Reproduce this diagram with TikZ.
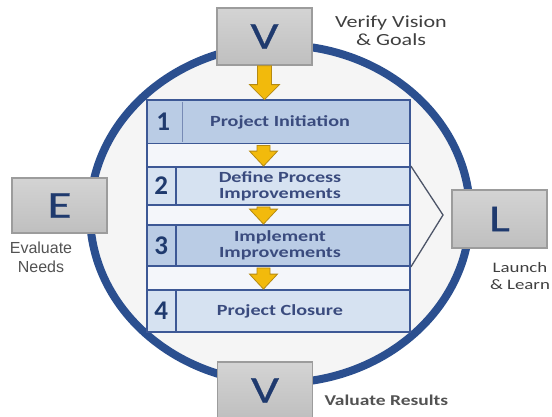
\documentclass[tikz,border=0pt]{standalone}
\usepackage{fontspec}
\setmainfont{Carlito}
\newfontfamily\widefont[FakeStretch=1.3]{Carlito}
\newfontfamily\letterfont[FakeStretch=1.3,FakeBold=0.6]{Carlito}
\newfontfamily\armfont{Liberation Sans}
\usetikzlibrary{calc}
\definecolor{ringblue}{HTML}{2B4F8F}
\definecolor{ringfill}{HTML}{F5F5F5}
\definecolor{boxgray}{HTML}{C9C9C9}
\definecolor{boxedge}{HTML}{9C9C9C}
\definecolor{letterblue}{HTML}{1F3A6E}
\definecolor{stepdark}{HTML}{BACCE5}
\definecolor{steplight}{HTML}{D6E2F1}
\definecolor{stepedge}{HTML}{3D5895}
\definecolor{steptext}{HTML}{3A4B7E}
\definecolor{gapfill}{HTML}{F4F6FA}
\definecolor{gold}{HTML}{F2BA0C}
\definecolor{golddark}{HTML}{B58A12}
\definecolor{labelgray}{HTML}{3F3F3F}
\definecolor{chevron}{HTML}{4D5568}
\tikzset{
  letterbox/.style={draw=boxedge, line width=1.6pt, top color=boxgray!80!white,
    bottom color=boxgray!95!black, minimum width=95pt, minimum height=57pt,
    inner sep=0pt, font=\letterfont\fontsize{38}{38}\selectfont, text=letterblue},
  stepbox/.style={draw=stepedge, line width=1.8pt, minimum width=263pt, inner sep=0pt},
  numtext/.style={font=\bfseries\fontsize{27}{27}\selectfont, text=letterblue},
  steplabel/.style={font=\widefont\bfseries\fontsize{15.5}{16}\selectfont, text=steptext, align=center},
  sidelabel/.style={font=\widefont\fontsize{17}{18}\selectfont, text=labelgray, align=center},
  fatarrow/.style={draw=golddark, line width=0.8pt, fill=gold,
    to path={let \p1=(\tikztostart), \p2=(\tikztotarget) in
      (\x1-#1pt,\y1) -- (\x1+#1pt,\y1) -- (\x1+#1pt,\y2+15pt) -- (\x1+2*#1pt+1pt,\y2+15pt)
      -- (\x1,\y2) -- (\x1-2*#1pt-1pt,\y2+15pt) -- (\x1-#1pt,\y2+15pt) -- cycle}},
}
\begin{document}
\begin{tikzpicture}[x=1pt,y=-1pt]
\useasboundingbox (0,0) rectangle (552,416);
% ring
\draw[ringblue, line width=8pt, fill=ringfill] (280,214) ellipse [x radius=190, y radius=169];
% frame holding the four steps
\node[draw=stepedge, line width=1.6pt, fill=gapfill, minimum width=263pt, minimum height=232pt,
  inner sep=0pt] (frame) at (278.5,216) {};
% steps
\node[stepbox, fill=stepdark, minimum height=43pt] (s1) at (278.5,122) {};
\node[stepbox, fill=steplight, minimum height=38pt] (s2) at (278.5,186) {};
\node[stepbox, fill=stepdark, minimum height=41pt] (s3) at (278.5,245.5) {};
\node[stepbox, fill=steplight, minimum height=42pt] (s4) at (278.5,311) {};
% number column dividers
\draw[stepedge!70, line width=0.8pt] ($(s1.north west)+(36,2)$) -- ($(s1.south west)+(36,-2)$);
\draw[stepedge, line width=1.8pt] ($(s2.north west)+(30,0)$) -- ($(s2.south west)+(30,0)$);
\draw[stepedge, line width=1.8pt] ($(s3.north west)+(30,0)$) -- ($(s3.south west)+(30,0)$);
\draw[stepedge, line width=1.8pt] ($(s4.north west)+(30,0)$) -- ($(s4.south west)+(30,0)$);
\node[numtext] (n1) at ($(s1.west)+(17,0)$) {1};
\node[numtext] (n2) at ($(s2.west)+(15,0)$) {2};
\node[numtext] (n3) at ($(s3.west)+(15,0)$) {3};
\node[numtext] (n4) at ($(s4.west)+(15,0)$) {4};
\node[steplabel] (t1) at (280,122) {Project Initiation};
\node[steplabel] (t2) at (280,186) {Define Process\\Improvements};
\node[steplabel] (t3) at (280,245.5) {Implement\\Improvements};
\node[steplabel] (t4) at (280,311) {Project Closure};
% chevron pointing to L
\coordinate (cv) at (443,215);
\draw[chevron, line width=1.3pt] (s2.north east) -- (cv) -- (s3.south east);
% letter boxes
\node[letterbox] (vt) at (264.5,36.5) {V};
\node[letterbox] (vb) at (265,390.5) {V};
\node[letterbox, minimum height=55pt] (ev) at (59.5,205.5) {E};
\node[letterbox, minimum height=58pt] (la) at (499.5,219) {L};
% labels
\node[sidelabel] (lv) at (391,31) {Verify Vision\\\& Goals};
\node[sidelabel, font=\armfont\fontsize{16}{19}\selectfont, text=labelgray!90] (le) at (41,257) {Evaluate\\Needs};
\node[sidelabel, font=\widefont\fontsize{14.5}{16.5}\selectfont] (ll) at (520,276) {Launch\\\& Learn};
\node[sidelabel, font=\widefont\bfseries\fontsize{15}{16}\selectfont, text=labelgray!90, anchor=west] (lr) at (321,400) {Valuate Results};
% gold arrows
\draw[fatarrow=7] (vt.south) to ($(s1.north)+(-13.5,0)$);
\draw[fatarrow=6.5] ($(s1.south)+(-15,1)$) to ($(s2.north)+(-15,0)$);
\draw[fatarrow=6.5] ($(s2.south)+(-15,1)$) to ($(s3.north)+(-15,0)$);
\draw[fatarrow=6.5] ($(s3.south)+(-15,1)$) to ($(s4.north)+(-15,0)$);
\end{tikzpicture}
\end{document}
